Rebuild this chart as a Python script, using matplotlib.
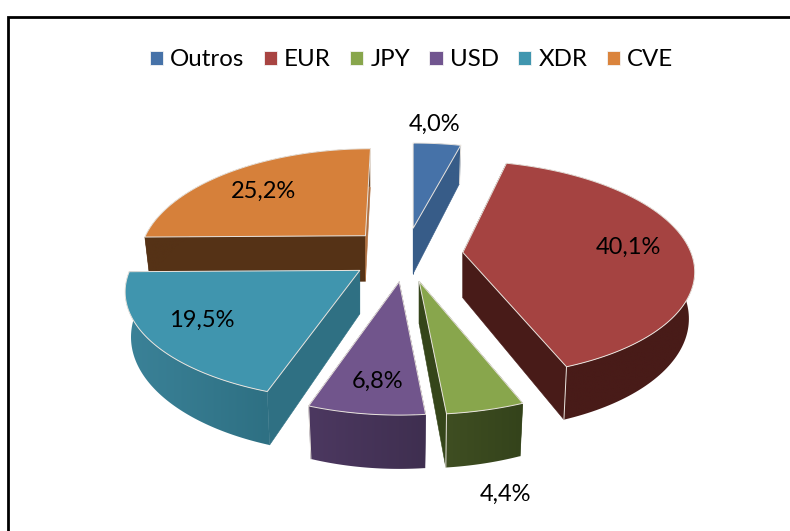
import numpy as np
import matplotlib
matplotlib.use("Agg")
import matplotlib.pyplot as plt
from matplotlib.patches import Polygon, Patch
from matplotlib.colors import to_rgb

plt.rcParams['font.family'] = ['Lato', 'DejaVu Sans']

categories = ["Outros", "EUR", "JPY", "USD", "XDR", "CVE"]
values = [4.0, 40.1, 4.4, 6.8, 19.5, 25.2]
top_colors = ["#4672A8", "#A54341", "#88A64C", "#71558C", "#4095AE", "#D6803A"]
legend_colors = ["#4672A8", "#A84442", "#88A64C", "#71558F", "#4096AF", "#DA843D"]
cut_start = ["#375C88", "#481B18", "#35451A", "#3F2F50", "#2F7083", "#553216"]
cut_end = ["#375C88", "#481B18", "#35451A", "#3F2F50", "#2F7083", "#B07040"]
wall_left = ["#375C88", "#481B18", "#3F4E22", "#4C3860", "#3B8298", "#553216"]
wall_right = ["#375C88", "#481B18", "#34431B", "#3F2F50", "#2E7083", "#553216"]

# Layout, in figure pixels
CX, CY = 406, 254
EXPLODE_X, EXPLODE_BACK, EXPLODE_FRONT = 57, 26, 28
WEDGE_RX = [228, 228, 230, 222, 230, 220]
WEDGE_RY = [102, 105.5, 105.3, 105.3, 104.2, 104.2]
WEDGE_PERSP = [0.198, 0.15, 0.21, 0.21, 0.198, 0.198]
WEDGE_SHEAR = [0, -7, 0, 0, 0, 6]
WEDGE_DEPTH = [45.5, 45.5, 42.5, 42.5, 43.5, 45.5]
BOTTOM_SHRINK = 0.975
LABEL_POS = [(435, 124), (628, 247), (505, 494), (378, 381), (202, 320), (264, 191)]
EDGE = "#E9E4DE"

fig = plt.figure(figsize=(7.9, 5.31), dpi=100)
ax = fig.add_axes([0, 0, 1, 1])
ax.set_xlim(0, 790)
ax.set_ylim(531, 0)
ax.axis("off")

ax.plot([8, 8, 790], [531, 17, 17], color="black", lw=2.0, solid_joinstyle="miter")


def local(i, theta, bottom=False):
    u, v = np.cos(theta), np.sin(theta)
    w = 1 + WEDGE_PERSP[i] * v
    x, y = (WEDGE_RX[i] * u + WEDGE_SHEAR[i] * v) / w, -WEDGE_RY[i] * v / w
    if bottom:
        x = x * BOTTOM_SHRINK
        y = y + WEDGE_DEPTH[i] / w
    return x, y


total = sum(values)
fracs = np.array(values) / total
ends = np.pi / 2 - 2 * np.pi * np.cumsum(fracs)
starts = ends + 2 * np.pi * fracs
mids = (starts + ends) / 2


def apex_of(i):
    s = np.sin(mids[i])
    ax_ = CX + EXPLODE_X * np.cos(mids[i])
    ay_ = CY - (EXPLODE_BACK if s > 0 else EXPLODE_FRONT) * s
    return ax_, ay_


order = [5, 0, 1, 4, 3, 2]
z = 2
for i in order:
    a0, a1 = apex_of(i)
    th = np.linspace(starts[i], ends[i], 120)
    tx, ty = local(i, th)
    bx, by = local(i, th, True)
    tx, bx = tx + a0, bx + a0
    ty, by = ty + a1, by + a1
    apex_b = a1 + WEDGE_DEPTH[i]

    # cut faces
    for k, col in ((0, cut_start[i]), (-1, cut_end[i])):
        ax.add_patch(Polygon([(a0, a1), (tx[k], ty[k]), (bx[k], by[k]), (a0, apex_b)],
                             closed=True, fc=col, ec=col, lw=0.4, zorder=z))
        z += 1
    # outer wall, shaded left to right
    c_l, c_r = np.array(to_rgb(wall_left[i])), np.array(to_rgb(wall_right[i]))
    xmin, xmax = min(tx.min(), bx.min()), max(tx.max(), bx.max())
    ymin, ymax = min(ty.min(), by.min()), max(ty.max(), by.max())
    grad = np.linspace(0, 1, 64)[None, :, None]
    img = c_l[None, None, :] + (c_r - c_l)[None, None, :] * grad
    im = ax.imshow(img, extent=(xmin, xmax, ymax, ymin), aspect="auto", zorder=z, interpolation="bilinear")
    wall = Polygon(np.column_stack([np.r_[tx, bx[::-1]], np.r_[ty, by[::-1]]]),
                   closed=True, transform=ax.transData, fc="none", ec="none")
    ax.add_patch(wall)
    im.set_clip_path(wall)
    z += 1
    # vertical edges at the front of the wedge
    ax.plot([tx[-1], bx[-1]], [ty[-1], by[-1]], color=EDGE, lw=0.7, zorder=z)
    z += 1
    # top surface
    ax.add_patch(Polygon(np.column_stack([np.r_[a0, tx], np.r_[a1, ty]]),
                         closed=True, fc=top_colors[i], ec=EDGE, lw=0.7, zorder=z, joinstyle="round"))
    z += 1

ax.set_xlim(0, 790)
ax.set_ylim(531, 0)

for v, (lx, ly) in zip(values, LABEL_POS):
    ax.text(lx, ly, f"{v:.1f}%".replace(".", ","), ha="center", va="center",
            fontsize=17, color="black", zorder=z + 1)

handles = [Patch(fc=c, ec="#F4F4F4", lw=0.6, label=n) for n, c in zip(categories, legend_colors)]
ax.legend(handles=handles, ncol=6, frameon=False, loc="center", bbox_to_anchor=(411.5, 60),
          bbox_transform=ax.transData, fontsize=17.3, handlelength=0.55, handleheight=0.55,
          handletextpad=0.3, columnspacing=0.8, labelcolor="black")

fig.savefig("out.png", dpi=100)
